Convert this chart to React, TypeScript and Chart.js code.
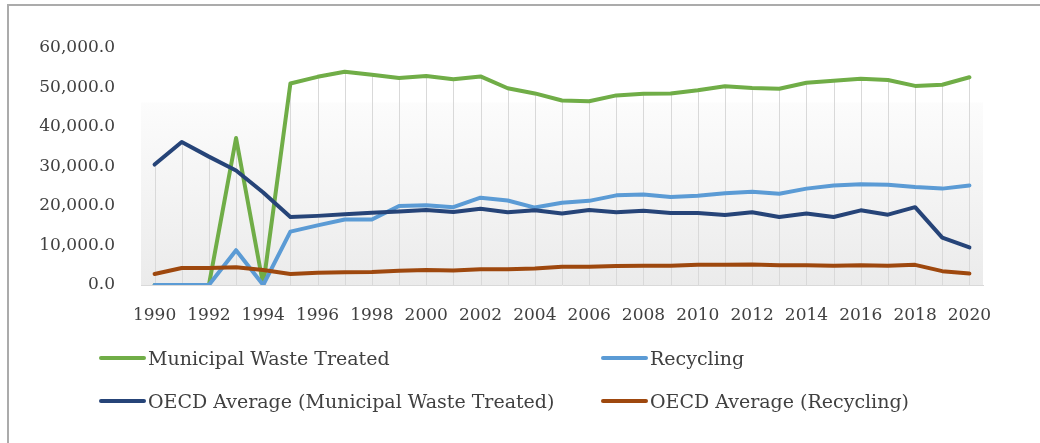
import React, { useEffect, useRef } from "react";
import { Chart, registerables } from "chart.js";

Chart.register(...registerables);

const years: string[] = [
  "1990","1991","1992","1993","1994","1995","1996","1997","1998","1999",
  "2000","2001","2002","2003","2004","2005","2006","2007","2008","2009",
  "2010","2011","2012","2013","2014","2015","2016","2017","2018","2019","2020",
];

const municipalWaste: number[] = [
  0, 0, 0, 37200, 0, 51000, 52700, 54000, 53200, 52400,
  52900, 52100, 52800, 49800, 48500, 46700, 46500, 48000, 48400, 48500,
  49300, 50300, 49900, 49700, 51200, 51700, 52200, 51900, 50400, 50700, 52600,
];

const recycling: number[] = [
  0, 0, 0, 8800, 0, 13500, 15100, 16600, 16600, 20000,
  20200, 19700, 22100, 21400, 19600, 20800, 21300, 22700, 22900, 22300,
  22600, 23200, 23600, 23100, 24400, 25200, 25500, 25400, 24800, 24400, 25200,
];

const oecdMunicipal: number[] = [
  30500, 36200, 32500, 29000, 23400, 17200, 17500, 17900, 18300, 18600,
  19000, 18500, 19300, 18400, 18900, 18100, 19000, 18400, 18800, 18200,
  18200, 17700, 18400, 17200, 18100, 17200, 18900, 17800, 19700, 12000, 9500,
];

const oecdRecycling: number[] = [
  2800, 4300, 4300, 4500, 3800, 2800, 3100, 3200, 3300, 3600,
  3800, 3700, 4000, 4000, 4200, 4600, 4600, 4800, 4900, 4900,
  5100, 5100, 5200, 5000, 5000, 4900, 5000, 4900, 5100, 3500, 2900,
];

const seriesNames: string[] = [
  "Municipal Waste Treated",
  "Recycling",
  "OECD Average (Municipal Waste Treated)",
  "OECD Average (Recycling)",
];
const seriesColors: string[] = ["#70ad47", "#5b9bd5", "#264478", "#9e480e"];

const FONT = "'DejaVu Serif', serif";
const TEXT = "#404040";

const plotDecor = {
  id: "plotDecor",
  beforeDatasetsDraw(chart: any) {
    const { ctx, chartArea, scales } = chart;
    const { left, right, top, bottom } = chartArea;
    ctx.save();
    const gTop = top + (bottom - top) * 0.23;
    const grad = ctx.createLinearGradient(0, gTop, 0, bottom);
    grad.addColorStop(0, "#fcfcfc");
    grad.addColorStop(1, "#ebebeb");
    ctx.fillStyle = grad;
    ctx.fillRect(left, gTop, right - left, bottom - gTop);
    // drop lines
    const xs = scales.x;
    const ys = scales.y;
    ctx.strokeStyle = "#d9d9d9";
    ctx.lineWidth = 1;
    const n = chart.data.labels.length;
    for (let i = 0; i < n; i++) {
      let mx = -Infinity;
      chart.data.datasets.forEach((d: any) => {
        if (d.data[i] > mx) mx = d.data[i];
      });
      const x = Math.round(xs.getPixelForValue(i)) + 0.5;
      ctx.beginPath();
      ctx.moveTo(x, ys.getPixelForValue(mx));
      ctx.lineTo(x, bottom);
      ctx.stroke();
    }
    ctx.restore();
  },
};

export default function App() {
  const ref = useRef<HTMLCanvasElement>(null);
  useEffect(() => {
    if (!ref.current) return;
    const data = [municipalWaste, recycling, oecdMunicipal, oecdRecycling];
    const chart = new Chart(ref.current, {
      type: "line",
      data: {
        labels: years,
        datasets: data.map((d, i) => ({
          label: seriesNames[i],
          data: d,
          order: 4 - i,
          borderColor: seriesColors[i],
          backgroundColor: seriesColors[i],
          borderWidth: 4,
          pointRadius: 0,
          tension: 0,
          fill: false,
          borderJoinStyle: "round" as const,
          borderCapStyle: "round" as const,
        })),
      },
      options: {
        animation: false,
        responsive: false,
        maintainAspectRatio: false,
        layout: { padding: { left: 0, right: 57, top: 48, bottom: 0 } },
        plugins: {
          legend: { display: false },
          tooltip: { enabled: false },
        },
        scales: {
          x: {
            offset: true,
            grid: { display: false, drawTicks: false },
            border: { display: true, color: "#d9d9d9", width: 1 },
            ticks: {
              autoSkip: false,
              maxRotation: 0,
              padding: 20,
              color: TEXT,
              font: { family: FONT, size: 17 },
              callback: (_v: any, i: number) => (i % 2 === 0 ? years[i] : ""),
            },
            afterFit: (s: any) => {
              s.height = 158;
            },
          },
          y: {
            min: 0,
            max: 60000,
            grid: { display: false, drawTicks: false },
            border: { display: false },
            ticks: {
              stepSize: 10000,
              padding: 26,
              color: TEXT,
              font: { family: FONT, size: 17 },
              callback: (v: any) =>
                Number(v).toLocaleString("en-US", {
                  minimumFractionDigits: 1,
                  maximumFractionDigits: 1,
                }),
            },
            afterFit: (s: any) => {
              s.width = 141;
            },
          },
        },
      },
      plugins: [plotDecor],
    });
    return () => chart.destroy();
  }, []);

  const legendPos = [
    { x: 99, y: 358 },
    { x: 601, y: 358 },
    { x: 99, y: 401 },
    { x: 601, y: 401 },
  ];

  return (
    <div
      style={{
        position: "absolute",
        left: 0,
        top: 0,
        width: 1040,
        height: 443,
        overflow: "hidden",
        background: "#fff",
      }}
    >
      <div
        style={{
          position: "absolute",
          left: 7,
          top: 4,
          width: 1100,
          height: 600,
          border: "2px solid #ababab",
          boxSizing: "border-box",
        }}
      />
      <canvas
        ref={ref}
        width={1040}
        height={443}
        style={{ position: "absolute", left: 0, top: 0, width: 1040, height: 443 }}
      />
      {seriesNames.map((name, i) => (
        <div
          key={name}
          style={{
            position: "absolute",
            left: legendPos[i].x,
            top: legendPos[i].y - 13,
            height: 26,
            display: "flex",
            alignItems: "center",
            whiteSpace: "nowrap",
            fontFamily: FONT,
            fontSize: 19,
            color: TEXT,
          }}
        >
          <span
            style={{
              display: "inline-block",
              width: 47,
              height: 4,
              background: seriesColors[i],
              borderRadius: 2,
              marginRight: 2,
            }}
          />
          <span>{name}</span>
        </div>
      ))}
    </div>
  );
}
